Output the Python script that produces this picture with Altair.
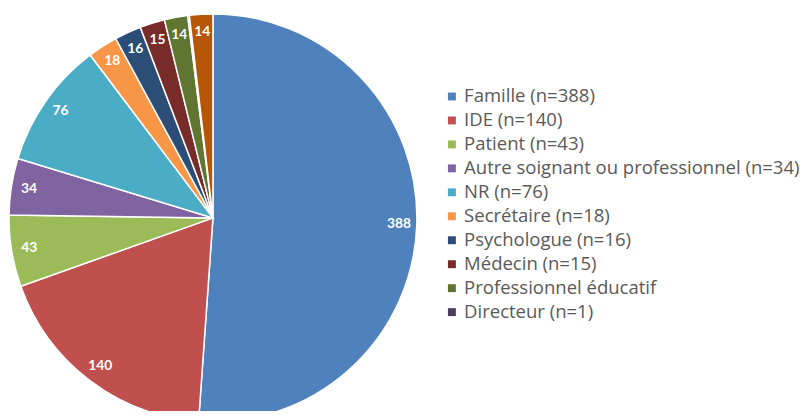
import altair as alt
import pandas as pd

categories = [
    "Famille (n=388)",
    "IDE (n=140)",
    "Patient (n=43)",
    "Autre soignant ou professionnel (n=34)",
    "NR (n=76)",
    "Secrétaire (n=18)",
    "Psychologue (n=16)",
    "Médecin (n=15)",
    "Professionnel éducatif",
    "Directeur (n=1)",
    "Autre (n=14)",
]
values = [388, 140, 43, 34, 76, 18, 16, 15, 14, 1, 14]
slice_labels = ["388", "140", "43", "34", "76", "18", "16", "15", "14", "", "14"]
colors = ["#4F81BD", "#C0504D", "#9BBB59", "#8064A2", "#4BACC6", "#F79646",
          "#2C4D75", "#772C2A", "#5F7530", "#4D3B62", "#B65708"]
legend_entries = categories[:10]

df = pd.DataFrame({
    "cat": categories,
    "value": values,
    "label": slice_labels,
    "idx": list(range(len(categories))),
})

base = alt.Chart(df).encode(
    theta=alt.Theta("value:Q", stack=True),
    order=alt.Order("idx:Q", sort="ascending"),
)

pie = base.mark_arc(radius=206, stroke="white", strokeWidth=1.5).encode(
    color=alt.Color(
        "cat:N",
        scale=alt.Scale(domain=categories, range=colors),
        sort=categories,
        legend=alt.Legend(
            title=None,
            values=legend_entries,
            orient="none",
            legendX=439,
            legendY=78,
            symbolType="square",
            symbolSize=64,
            symbolStrokeWidth=0,
            labelFontSize=18.7,
            labelFont="Open Sans",
            labelColor="#595959",
            labelLimit=400,
            rowPadding=4.2,
            labelOffset=3,
        ),
    ),
    x=alt.value(207),
    y=alt.value(210),
)

text = base.mark_text(
    radius=188, color="white", fontWeight="bold", fontSize=14, font="Lato"
).encode(
    text="label:N",
    x=alt.value(207),
    y=alt.value(210),
)

chart = (pie + text).properties(
    width=804,
    height=403,
    autosize="none",
    padding=0,
).configure_view(stroke=None)

chart.save("out.html", embed_options={"renderer": "svg", "actions": False})
